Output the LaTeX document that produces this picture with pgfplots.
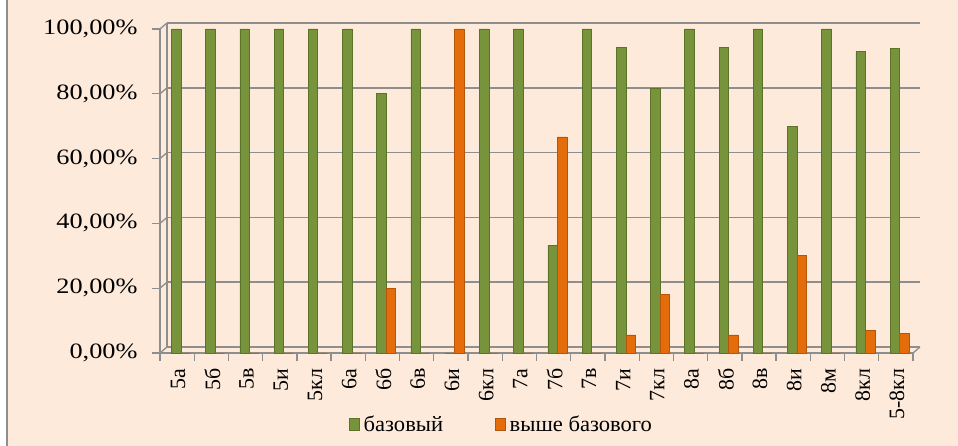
\documentclass[border=0pt]{standalone}
\usepackage{pgfplots}
\pgfplotsset{compat=1.18}
\usepackage{fontspec}
\setmainfont{Liberation Serif}
\newfontfamily\widefont[FakeStretch=1.2]{Liberation Serif}
\newfontfamily\legfont[FakeStretch=1.03]{Liberation Serif}
\definecolor{bgc}{HTML}{FDEADA}
\definecolor{gridc}{HTML}{8E8E8E}
\definecolor{grn}{HTML}{77933C}
\definecolor{grnd}{HTML}{5B7229}
\definecolor{org}{HTML}{E46C0A}
\definecolor{orgd}{HTML}{B4560A}
\begin{document}
\begin{tikzpicture}[x=1bp,y=1bp]
\useasboundingbox (0,0) rectangle (958,446);
\fill[white] (0,0) rectangle (958,446);
\fill[bgc] (6,0) rectangle (958,446);
\draw[gridc, line width=1.6bp] (6.8,0) -- (6.8,446);
\begin{axis}[
  at={(160bp,93bp)}, anchor=south west,
  scale only axis, width=753bp, height=324bp,
  xmin=-0.5, xmax=21.5, ymin=0, ymax=100,
  clip=false,
  axis x line*=bottom, axis y line*=left,
  axis line style={gridc, line width=1.3bp},
  ytick={0,20,40,60,80,100},
  yticklabels={{0,00\%},{20,00\%},{40,00\%},{60,00\%},{80,00\%},{100,00\%}},
  /pgf/number format/assume math mode=true,
  tick align=outside,
  ytick style={gridc, line width=1.3bp},
  major tick length=8bp,
  yticklabel style={font=\widefont\fontsize{22}{25}\selectfont, xshift=-11bp},
  xtick={-0.5,0.5,...,21.5},
  xticklabels={},
  xtick style={gridc, line width=1.3bp},
  extra x ticks={0,1,...,21},
  extra x tick labels={5а,5б,5в,5и,5кл,6а,6б,6в,6и,6кл,7а,7б,7в,7и,7кл,8а,8б,8в,8и,8м,8кл,5-8кл},
  extra x tick style={major tick length=0pt, xticklabel style={rotate=90, anchor=east, font=\fontsize{22}{25}\selectfont, yshift=-1bp, xshift=-12bp}},
  legend style={at={(0.4535,-0.219)}, anchor=center, draw=none, fill=none,
    legend columns=2, font=\legfont\fontsize{22}{25}\selectfont,
    /tikz/every odd column/.append style={column sep=2bp},
    /tikz/every even column/.append style={column sep=50bp}},
  legend image code/.code={\fill[#1] (0bp,-6bp) rectangle (10bp,6bp);},
]
\pgfplotsinvokeforeach{0,20,40,60,80,100}{
  \draw[gridc, line width=1.5bp] (axis cs:-0.5,#1) ++(7bp,6bp) -- ++(753bp,0bp);
  \draw[gridc, line width=1.3bp] (axis cs:-0.5,#1) -- ++(7bp,6bp);
}
\draw[gridc, line width=1.3bp] (axis cs:21.5,0) -- ++(7bp,6bp);
\draw[gridc, line width=1.3bp] (axis cs:-0.5,0) ++(7bp,6bp) -- ++(0bp,324bp);
\addplot[ybar, bar width=9.5bp, bar shift=-1bp, fill=grn, draw=grnd, line width=0.6bp] coordinates {
(0,100) (1,100) (2,100) (3,100) (4,100) (5,100) (6,80) (7,100) (8,0) (9,100) (10,100)
(11,33.33) (12,100) (13,94.44) (14,81.82) (15,100) (16,94.44) (17,100) (18,70) (19,100) (20,93.1) (21,93.9)};
\addlegendentry{базовый}
\addplot[ybar, bar width=9.5bp, bar shift=8.5bp, fill=org, draw=orgd, line width=0.6bp] coordinates {
(0,0) (1,0) (2,0) (3,0) (4,0) (5,0) (6,20) (7,0) (8,100) (9,0) (10,0)
(11,66.67) (12,0) (13,5.56) (14,18.18) (15,0) (16,5.56) (17,0) (18,30) (19,0) (20,6.9) (21,6.1)};
\addlegendentry{выше базового}
\end{axis}
\end{tikzpicture}
\end{document}
